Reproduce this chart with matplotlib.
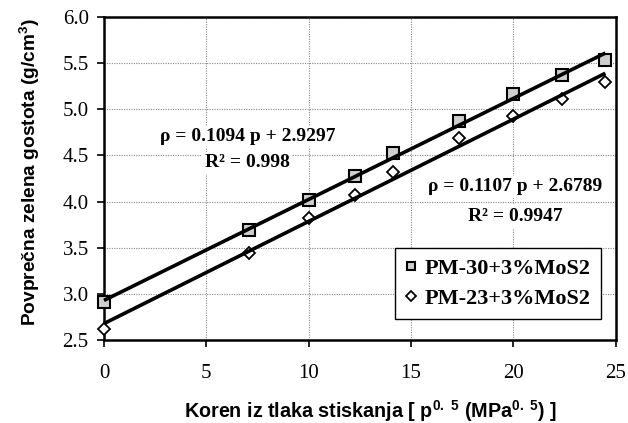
import numpy as np
import matplotlib.pyplot as plt

# square root of compaction pressure, p^0.5 (MPa^0.5)
p_sqrt = [0, 7.07, 10, 12.25, 14.14, 17.32, 20, 22.36, 24.49]

# green density (g/cm3)
rho_pm30 = [2.91, 3.69, 4.02, 4.28, 4.53, 4.87, 5.17, 5.37, 5.53]
rho_pm23 = [2.62, 3.44, 3.82, 4.07, 4.32, 4.69, 4.93, 5.11, 5.30]

# linear fit coefficients (slope, intercept) and R^2
fit_pm30 = (0.1094, 2.9297, 0.998)
fit_pm23 = (0.1107, 2.6789, 0.9947)

label_pm30 = "PM-30+3%MoS2"
label_pm23 = "PM-23+3%MoS2"

serif = "Liberation Serif"
sans = "Liberation Sans"

plt.rcParams["mathtext.fontset"] = "custom"
plt.rcParams["mathtext.rm"] = "Liberation Sans:bold"
plt.rcParams["mathtext.it"] = "Liberation Sans:bold"
plt.rcParams["mathtext.bf"] = "Liberation Sans:bold"

fig = plt.figure(figsize=(6.28, 4.23), dpi=100)
ax = fig.add_axes([0.1656, 0.196, 0.815, 0.764])

ax.plot(p_sqrt, rho_pm30, linestyle="none", marker="s", markersize=8.5,
        markerfacecolor="#cfcfcf", markeredgecolor="black", markeredgewidth=1.5,
        label=label_pm30, clip_on=False, zorder=3)
ax.plot(p_sqrt, rho_pm23, linestyle="none", marker="D", markersize=6.5,
        markerfacecolor="white", markeredgecolor="black", markeredgewidth=1.3,
        label=label_pm23, clip_on=False, zorder=3)

# trend lines drawn over the markers
xs = np.array([p_sqrt[0], p_sqrt[-1]])
for k, b, _ in (fit_pm30, fit_pm23):
    ax.plot(xs, k * xs + b, color="black", linewidth=2.6, zorder=4,
            solid_capstyle="butt", clip_on=False)

ax.set_xlim(0, 25)
ax.set_ylim(2.5, 6.0)
ax.set_xticks(np.arange(0, 26, 5))
ax.set_yticks(np.arange(2.5, 6.01, 0.5))
ax.set_yticklabels([f"{v:.1f}" for v in np.arange(2.5, 6.01, 0.5)])

ax.grid(True, color="#888888", linestyle=(0, (1, 1.2)), linewidth=0.8)
ax.set_axisbelow(True)

for s in ax.spines.values():
    s.set_linewidth(1.8)
    s.set_color("black")

ax.tick_params(direction="out", length=5, width=1.2, colors="black")
ax.tick_params(axis="x", pad=12)
ax.tick_params(axis="y", pad=6)
for t in ax.get_xticklabels() + ax.get_yticklabels():
    t.set_fontfamily(serif)
    t.set_fontsize(15)

ax.set_xlabel("Koren iz tlaka stiskanja [ p$^{0.\\ 5}$ (MPa$^{0.\\ 5}$) ]",
              fontfamily=sans, fontweight="bold", fontsize=14.2, va="center")
ax.xaxis.set_label_coords(0.521, -0.22)
ax.set_ylabel("Povprečna zelena gostota (g/cm$^{3}$)",
              fontfamily=sans, fontweight="bold", fontsize=13.8, va="center")
ax.yaxis.set_label_coords(-0.145, 0.52)

box = dict(facecolor="white", edgecolor="none", pad=2)
eq_style = dict(fontfamily=serif, fontweight="bold", fontsize=14,
                ha="center", va="center", bbox=box, zorder=5)

k, b, r2 = fit_pm30
ax.text(7.0, 4.70, f"ρ = {k} p + {b}", **eq_style)
ax.text(7.0, 4.42, f"R² = {r2}", **eq_style)

k, b, r2 = fit_pm23
ax.text(20.1, 4.16, f"ρ = {k} p + {b}", **eq_style)
ax.text(20.1, 3.84, f"R² = {r2}", **eq_style)

leg = ax.legend(loc="lower right", bbox_to_anchor=(0.971, 0.065),
                borderaxespad=0,
                prop={"family": serif, "weight": "bold", "size": 16},
                frameon=True, fancybox=False, markerscale=0.75,
                handlelength=0.5, handletextpad=0.4, borderpad=0.45,
                labelspacing=0.45)
leg.get_frame().set_edgecolor("black")
leg.get_frame().set_linewidth(1.0)
leg.get_frame().set_alpha(1.0)
leg.set_zorder(6)

fig.savefig("out.png", dpi=100)
